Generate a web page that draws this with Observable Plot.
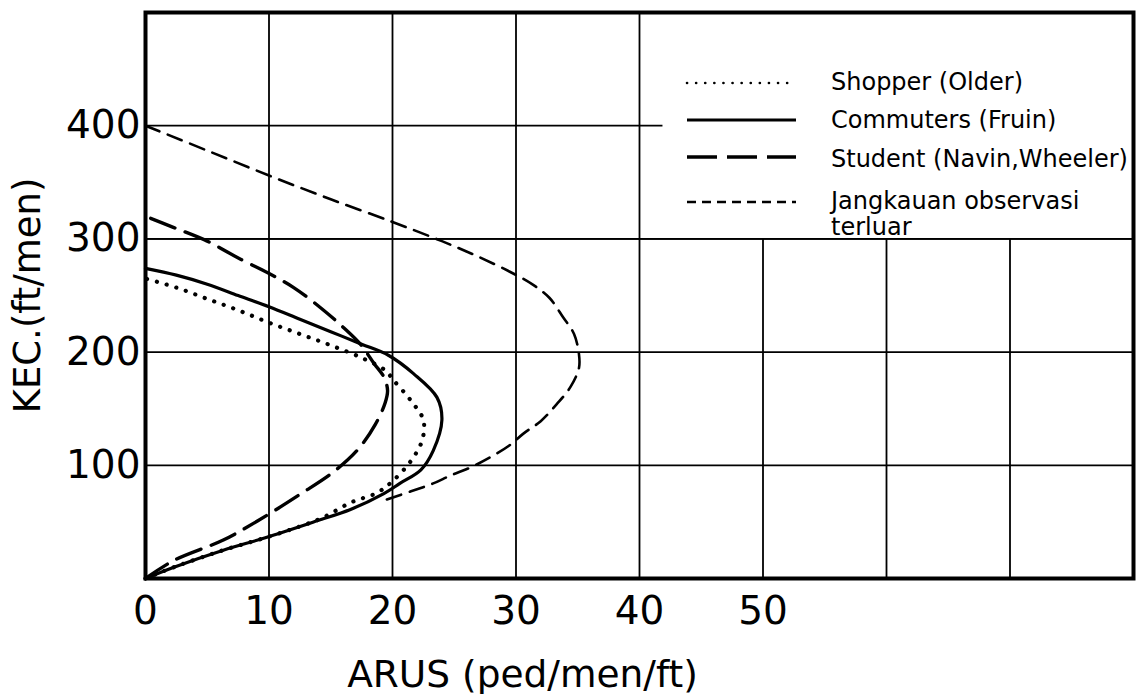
<!DOCTYPE html>
<html>
<head>
<meta charset="utf-8">
<script src="https://cdn.jsdelivr.net/npm/d3@7"></script>
<script src="https://cdn.jsdelivr.net/npm/@observablehq/plot@0.6"></script>
<style>
  html, body { margin: 0; padding: 0; background: white; }
  #wrap { position: relative; width: 1139px; height: 694px; font-family: "DejaVu Sans", sans-serif; }
  #legend { position: absolute; left: 0; top: 0; width: 1139px; height: 694px; pointer-events: none; }
</style>
</head>
<body>
<div id="wrap"></div>
<script>
// ---- data ----
const xTickLabels = [0, 10, 20, 30, 40, 50];
const xGridValues = [0, 10, 20, 30, 40, 50, 60, 70, 80];
const yTickLabels = [100, 200, 300, 400];

const seriesNames = ["Shopper (Older)", "Commuters (Fruin)", "Student (Navin,Wheeler)", "Jangkauan observasi terluar"];

// [flow (ped/men/ft), speed (ft/men)]
const shopper = [
  [0,0],[2.3,10],[6.3,25],[9.7,36],[12.5,46],[14.4,54],[16.6,67],[18.8,76],[20.1,87],
  [21.5,104],[22.4,122],[22.5,140],[21.5,157],[20.1,175],[19.4,184],[17.5,195],[15,206],
  [12.5,216],[10,226],[7.5,237],[5,247],[2.5,257],[0,265]
];
const commuters = [
  [0,0],[2.3,10],[6.3,25],[9.7,36],[13.9,51],[16.6,61],[19.3,75],[20.6,84],[22.3,96],
  [23.3,113],[24,140],[23.6,160],[21.7,181],[19.7,197],[17.5,207],[15,218],[12.5,229],
  [10,240],[7.5,250],[5,260],[2.5,268],[0,274]
];
const students = [
  [0,0],[2.3,16],[6.3,34],[9.1,51],[12.6,75],[15.2,94],[17.2,114],[18.6,136],[19.4,155],
  [19.6,166],[19.3,178],[18.5,190],[17.4,207],[16,222],[14.2,239],[12,257],[9.9,270],
  [7.7,282],[5,298],[2.3,310],[0,320]
];
const outerRange = [
  [0,400],[5,378],[10,356],[15,335],[20,315],[24,298],[27,284],[29.5,271],[31.3,260],
  [32.7,248],[33.8,231],[34.7,216],[35.1,198],[35.1,186],[34.4,169],[33.3,154],[32,139],
  [30.6,128],[29.4,117],[27.9,107],[26.3,98],[24.7,91],[23.3,84],[21.5,77],[19.3,69]
];

// legend area (white box in the upper right of the plot)
const legendBox = [{x1: 41.9, x2: 80, y1: 300, y2: 500}];

const px = d => d[0], py = d => d[1];

const chart = Plot.plot({
  width: 1139,
  height: 694,
  marginLeft: 145,
  marginRight: 6,
  marginTop: 12,
  marginBottom: 116,
  x: {domain: [0, 80]},
  y: {domain: [0, 500]},
  style: {fontFamily: "DejaVu Sans, sans-serif", background: "white", color: "black"},
  marks: [
    Plot.gridX(xGridValues, {stroke: "black", strokeOpacity: 1, strokeWidth: 1.8}),
    Plot.gridY(yTickLabels, {stroke: "black", strokeOpacity: 1, strokeWidth: 1.8}),
    Plot.rect(legendBox, {x1: "x1", x2: "x2", y1: "y1", y2: "y2", fill: "white"}),
    Plot.gridY([300], {stroke: "black", strokeOpacity: 1, strokeWidth: 1.8}),
    Plot.axisX(xTickLabels, {tickSize: 0, tickPadding: 18, fontSize: 39, label: null}),
    Plot.axisY(yTickLabels, {tickSize: 0, tickPadding: 5, fontSize: 39, label: null}),
    Plot.line(outerRange, {x: px, y: py, curve: "catmull-rom", stroke: "black", strokeWidth: 2.6, strokeDasharray: "15 9"}),
    Plot.line(students, {x: px, y: py, curve: "catmull-rom", stroke: "black", strokeWidth: 3.4, strokeDasharray: "26 11"}),
    Plot.line(commuters, {x: px, y: py, curve: "catmull-rom", stroke: "black", strokeWidth: 3.2}),
    Plot.line(shopper, {x: px, y: py, curve: "catmull-rom", stroke: "black", strokeWidth: 4.2, strokeDasharray: "0.1 10", strokeLinecap: "round"}),
    Plot.frame({stroke: "black", strokeWidth: 4}),
    Plot.text(["ARUS (ped/men/ft)"], {frameAnchor: "bottom", textAnchor: "middle", dx: -117, dy: 108, lineAnchor: "bottom", fontSize: 37.5}),
    Plot.text(["KEC.(ft/men)"], {frameAnchor: "left", textAnchor: "middle", dx: -106, dy: 0, rotate: -90, lineAnchor: "bottom", fontSize: 37})
  ]
});

document.getElementById("wrap").appendChild(chart);

// legend overlay
const lg = d3.select("#wrap").append("svg").attr("id", "legend").attr("width", 1139).attr("height", 694);
const rows = [
  {name: seriesNames[0], y: 83, dash: "0.1 9", w: 2.6, cap: "round"},
  {name: seriesNames[1], y: 120, dash: null, w: 3, cap: "butt"},
  {name: seriesNames[2], y: 157, dash: "30 10", w: 3.4, cap: "butt"},
  {name: seriesNames[3], y: 202, dash: "9 6", w: 2.6, cap: "butt"}
];
rows.forEach(r => {
  lg.append("line").attr("x1", 687).attr("x2", 796).attr("y1", r.y).attr("y2", r.y)
    .attr("stroke", "black").attr("stroke-width", r.w)
    .attr("stroke-dasharray", r.dash).attr("stroke-linecap", r.cap);
});
const labelRows = [
  {text: "Shopper (Older)", y: 82},
  {text: "Commuters (Fruin)", y: 120},
  {text: "Student (Navin,Wheeler)", y: 159},
  {text: "Jangkauan observasi", y: 201},
  {text: "terluar", y: 227}
];
labelRows.forEach(r => {
  lg.append("text").attr("x", 831).attr("y", r.y).attr("dy", "0.35em")
    .attr("font-family", "DejaVu Sans, sans-serif").attr("font-size", 24)
    .attr("fill", "black").text(r.text);
});
</script>
</body>
</html>
